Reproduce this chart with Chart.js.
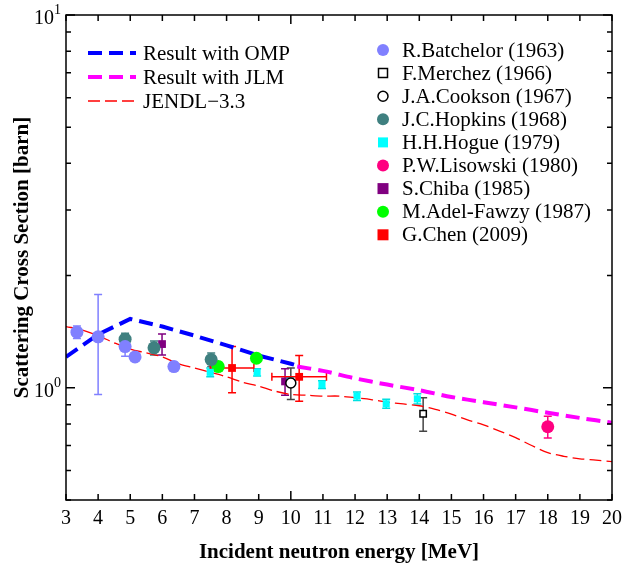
<!DOCTYPE html>
<html>
<head>
<meta charset="utf-8">
<script src="https://cdn.jsdelivr.net/npm/chart.js@4.4.0/dist/chart.umd.min.js"></script>
<style>
html, body { margin: 0; padding: 0; background: #fff; }
</style>
</head>
<body>
<canvas id="mycanvas" width="622" height="569"></canvas>
<script>
// calculated curves
var energyOMP = [3, 4, 5, 6, 7, 8, 9, 10, 10.3];
var sigmaOMP = [1.21, 1.39, 1.53, 1.46, 1.38, 1.30, 1.22, 1.16, 1.14];

var energyJLM = [10.2, 11, 12, 13, 14, 15, 16, 17, 18, 19, 20];
var sigmaJLM = [1.14, 1.11, 1.06, 1.02, 0.985, 0.945, 0.915, 0.886, 0.857, 0.83, 0.806];

var energyJENDL = [3, 3.5, 4, 4.5, 5, 5.5, 6, 6.5, 7, 7.5, 8, 8.5, 9, 9.5, 10, 10.5, 11, 11.5, 12, 12.5, 13, 13.5, 14, 14.5, 15, 15.5, 16, 16.5, 17, 17.5, 18, 18.5, 19, 19.5, 20];
var sigmaJENDL = [1.46, 1.43, 1.38, 1.32, 1.27, 1.24, 1.21, 1.16, 1.13, 1.10, 1.07, 1.035, 1.01, 0.98, 0.96, 0.955, 0.95, 0.95, 0.94, 0.93, 0.915, 0.905, 0.895, 0.875, 0.85, 0.82, 0.795, 0.765, 0.735, 0.70, 0.67, 0.655, 0.645, 0.64, 0.634];

// measurements: energy, cross section, error
var batchelorE = [3.34, 4.0, 4.84, 5.15, 6.36];
var batchelorS = [1.41, 1.37, 1.29, 1.21, 1.14];
var batchelorErr = [0.055, 0.41, 0.075, 0.03, 0.03];

var merchezE = [14.12];
var merchezS = [0.852];
var merchezErr = [0.088];

var cooksonE = [10.0];
var cooksonS = [1.03];
var cooksonErr = [0.10];

var hopkinsE = [4.84, 5.74, 7.52];
var hopkinsS = [1.35, 1.28, 1.19];
var hopkinsErr = [0.05, 0.055, 0.05];

var hogueE = [7.49, 8.95, 9.98, 10.97, 12.06, 12.97, 13.94];
var hogueS = [1.10, 1.10, 1.04, 1.02, 0.95, 0.906, 0.934];
var hogueErr = [0.03, 0.025, 0.025, 0.025, 0.025, 0.025, 0.03];

var lisowskiE = [18.0];
var lisowskiS = [0.786];
var lisowskiErr = [0.053];

var chibaE = [5.99, 9.82];
var chibaS = [1.31, 1.04];
var chibaErr = [0.085, 0.085];

var fawzyE = [7.74, 8.93];
var fawzyS = [1.14, 1.20];
var fawzyErr = [0.03, 0.03];

var chenE = [8.17, 10.26];
var chenS = [1.13, 1.07];
var chenErr = [0.16, 0.15];
var chenEErr = [0.68, 0.85];

var xTicks = [3, 4, 5, 6, 7, 8, 9, 10, 11, 12, 13, 14, 15, 16, 17, 18, 19, 20];
var yMinor = [0.5, 0.6, 0.7, 0.8, 0.9, 2, 3, 4, 5, 6, 7, 8, 9];
var yMajor = [1, 10];

var serif = "'Liberation Serif', 'DejaVu Serif', serif";

function pts(e, s, err, eerr) {
	var out = [];
	for (var i = 0; i < e.length; i++) {
		var p = {x: e[i], y: s[i]};
		if (err) { p.yl = s[i] - err[i]; p.yh = s[i] + err[i]; }
		if (eerr) { p.xl = e[i] - eerr[i]; p.xh = e[i] + eerr[i]; }
		out.push(p);
	}
	return out;
}

function curve(label, e, s, color, width, dash) {
	return {
		label: label,
		data: pts(e, s),
		showLine: true,
		fill: false,
		borderColor: color,
		borderWidth: width,
		borderDash: dash,
		pointRadius: 0,
		tension: 0.3,
		order: 2
	};
}

function marks(label, e, s, err, color, style, size, fillColor, barColor, eerr) {
	return {
		label: label,
		data: pts(e, s, err, eerr),
		showLine: false,
		pointStyle: style,
		pointRadius: size,
		backgroundColor: fillColor,
		borderColor: color,
		borderWidth: fillColor == '#fff' ? 1.5 : 0,
		errColor: barColor,
		order: 1
	};
}

var datasets = [
	marks("R.Batchelor (1963)", batchelorE, batchelorS, batchelorErr, '#8080ff', 'circle', 6.5, '#8080ff', '#8080ff'),
	marks("F.Merchez (1966)", merchezE, merchezS, merchezErr, '#000', 'rect', 4.5, '#fff', '#444'),
	marks("J.A.Cookson (1967)", cooksonE, cooksonS, cooksonErr, '#000', 'circle', 5, '#fff', '#444'),
	marks("J.C.Hopkins (1968)", hopkinsE, hopkinsS, hopkinsErr, '#3f8080', 'circle', 6.5, '#3f8080', '#3f8080'),
	marks("H.H.Hogue (1979)", hogueE, hogueS, hogueErr, '#00ffff', 'rect', 5, '#00ffff', '#00e0e0'),
	marks("P.W.Lisowski (1980)", lisowskiE, lisowskiS, lisowskiErr, '#ff0080', 'circle', 6.5, '#ff0080', '#ff0080'),
	marks("S.Chiba (1985)", chibaE, chibaS, chibaErr, '#800080', 'rect', 5.5, '#800080', '#800080'),
	marks("M.Adel-Fawzy (1987)", fawzyE, fawzyS, fawzyErr, '#00ff00', 'circle', 6.5, '#00ff00', '#00e000'),
	marks("G.Chen (2009)", chenE, chenS, chenErr, '#ff0000', 'rect', 5.5, '#ff0000', '#ff0000', chenEErr),
	curve("Result with OMP", energyOMP, sigmaOMP, '#0000ff', 4, [14, 7]),
	curve("Result with JLM", energyJLM, sigmaJLM, '#ff00ff', 4, [14, 7]),
	curve("JENDL\u22123.3", energyJENDL, sigmaJENDL, '#ff0000', 1.3, [12, 5])
];
datasets[9].tension = 0;

// error bars drawn through the scales
var errorBars = {
	id: 'errorBars',
	beforeDatasetsDraw: function(chart) {
		var c = chart.ctx, xs = chart.scales.x, ys = chart.scales.y;
		c.save();
		chart.data.datasets.forEach(function(ds) {
			if (!ds.errColor) return;
			c.strokeStyle = ds.errColor;
			c.lineWidth = 1.5;
			ds.data.forEach(function(p) {
				var px = xs.getPixelForValue(p.x), py = ys.getPixelForValue(p.y);
				c.beginPath();
				if (p.yl !== undefined) {
					var a = ys.getPixelForValue(p.yl), b = ys.getPixelForValue(p.yh);
					c.moveTo(px, a); c.lineTo(px, b);
					c.moveTo(px - 4, a); c.lineTo(px + 4, a);
					c.moveTo(px - 4, b); c.lineTo(px + 4, b);
				}
				if (p.xl !== undefined) {
					var l = xs.getPixelForValue(p.xl), r = xs.getPixelForValue(p.xh);
					c.moveTo(l, py); c.lineTo(r, py);
					c.moveTo(l, py - 4); c.lineTo(l, py + 4);
					c.moveTo(r, py - 4); c.lineTo(r, py + 4);
				}
				c.stroke();
			});
		});
		c.restore();
	}
};

// frame, inward ticks, y labels and the two legends
var frame = {
	id: 'frame',
	afterDraw: function(chart) {
		var c = chart.ctx, a = chart.chartArea, xs = chart.scales.x, ys = chart.scales.y;
		c.save();
		c.strokeStyle = '#000';
		c.lineWidth = 1.5;
		c.strokeRect(a.left, a.top, a.right - a.left, a.bottom - a.top);
		c.beginPath();
		xTicks.forEach(function(v) {
			var px = xs.getPixelForValue(v);
			var len = (v == 10) ? 9 : 6;
			c.moveTo(px, a.bottom); c.lineTo(px, a.bottom - len);
			c.moveTo(px, a.top); c.lineTo(px, a.top + len);
		});
		yMinor.forEach(function(v) {
			var py = ys.getPixelForValue(v);
			c.moveTo(a.left, py); c.lineTo(a.left + 5, py);
			c.moveTo(a.right, py); c.lineTo(a.right - 5, py);
		});
		yMajor.forEach(function(v) {
			var py = ys.getPixelForValue(v);
			c.moveTo(a.left, py); c.lineTo(a.left + 9, py);
			c.moveTo(a.right, py); c.lineTo(a.right - 9, py);
		});
		c.stroke();

		c.fillStyle = '#000';
		yMajor.forEach(function(v) {
			var py = ys.getPixelForValue(v);
			c.font = '20px ' + serif;
			c.textAlign = 'right';
			c.textBaseline = 'alphabetic';
			c.fillText('10', a.left - 12, py + 9);
			c.font = '14px ' + serif;
			c.textAlign = 'left';
			c.fillText(String(Math.round(Math.log10(v))), a.left - 12, py - 1);
		});

		// line legend
		var lines = datasets.slice(9);
		lines.forEach(function(ds, i) {
			var y = 53 + i * 24;
			c.strokeStyle = ds.borderColor;
			c.lineWidth = ds.borderWidth;
			c.setLineDash(ds.borderDash);
			c.beginPath();
			c.moveTo(88, y); c.lineTo(136, y);
			c.stroke();
			c.setLineDash([]);
			c.fillStyle = '#000';
			c.font = '21px ' + serif;
			c.textAlign = 'left';
			c.textBaseline = 'middle';
			c.fillText(ds.label, 143, y + 1);
		});

		// marker legend
		datasets.slice(0, 9).forEach(function(ds, i) {
			var y = 50 + i * 23.1, x = 383;
			c.fillStyle = ds.backgroundColor;
			c.strokeStyle = ds.borderColor;
			c.lineWidth = 1.5;
			c.beginPath();
			if (ds.pointStyle == 'circle') {
				c.arc(x, y, Math.min(ds.pointRadius, 6), 0, Math.PI * 2);
			} else {
				var h = ds.pointRadius;
				c.rect(x - h, y - h, h * 2, h * 2);
			}
			c.fill();
			if (ds.borderWidth) c.stroke();
			c.fillStyle = '#000';
			c.font = '21px ' + serif;
			c.textAlign = 'left';
			c.textBaseline = 'middle';
			c.fillText(ds.label, 402, y + 1);
		});
		c.restore();
	}
};

var ctx = document.getElementById('mycanvas');
var chart = new Chart(ctx, {
	type: 'scatter',
	data: { datasets: datasets },
	options: {
		responsive: false,
		animation: false,
		layout: { padding: { top: 15, right: 10, left: 0, bottom: 0 } },
		plugins: {
			legend: { display: false },
			tooltip: { enabled: false }
		},
		scales: {
			x: {
				type: 'linear',
				min: 3,
				max: 20,
				afterBuildTicks: function(s) { s.ticks = xTicks.map(function(v) { return {value: v}; }); },
				afterFit: function(s) { s.height = 69; s.paddingRight = 0; s.paddingLeft = 0; },
				ticks: { color: '#000', font: { family: serif, size: 20 }, padding: 7, maxRotation: 0, autoSkip: false },
				grid: { display: false, drawTicks: false },
				border: { display: false },
				title: {
					display: true,
					text: 'Incident neutron energy [MeV]',
					color: '#000',
					font: { family: serif, size: 21, weight: 'bold' },
					padding: { top: 0, bottom: 4 }
				}
			},
			y: {
				type: 'logarithmic',
				min: 0.5,
				max: 10,
				afterFit: function(s) { s.width = 66; s.paddingTop = 0; s.paddingBottom = 0; },
				ticks: { callback: function() { return ''; } },
				grid: { display: false, drawTicks: false },
				border: { display: false },
				title: {
					display: true,
					text: 'Scattering Cross Section [barn]',
					color: '#000',
					font: { family: serif, size: 21, weight: 'bold' },
					padding: { top: 10, bottom: 0 }
				}
			}
		}
	},
	plugins: [errorBars, frame]
});
</script>
</body>
</html>
